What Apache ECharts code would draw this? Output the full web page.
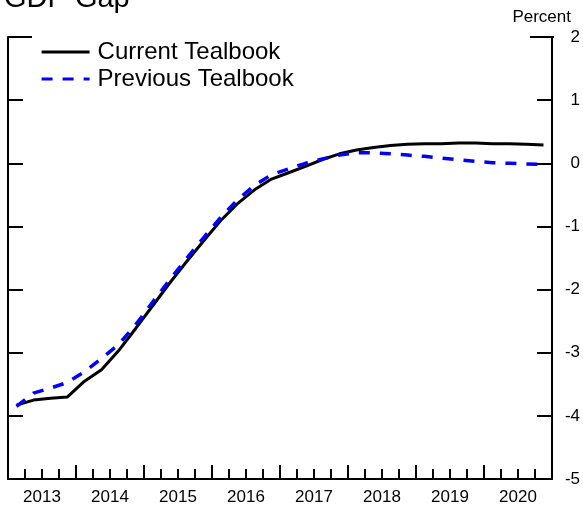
<!DOCTYPE html>
<html>
<head>
<meta charset="utf-8">
<script src="https://cdn.jsdelivr.net/npm/echarts@6/dist/echarts.min.js"></script>
<style>
  html, body { margin: 0; padding: 0; background: #fff; }
  #chart { width: 583px; height: 506px; }
</style>
</head>
<body>
<div id="chart"></div>
<script>
// year labels on the x axis
const years = ['2013', '2014', '2015', '2016', '2017', '2018', '2019', '2020']

// GDP gap, quarterly 2013Q1 .. 2020Q4 (percent)
const currentTealbook = [
  -3.83, -3.75, -3.72, -3.70, -3.45, -3.27, -2.97, -2.62,
  -2.26, -1.90, -1.56, -1.23, -0.91, -0.64, -0.42, -0.25,
  -0.15, -0.05, 0.06, 0.15, 0.21, 0.25, 0.28, 0.30,
  0.31, 0.31, 0.32, 0.32, 0.31, 0.31, 0.30, 0.29,
]
const previousTealbook = [
  -3.85, -3.64, -3.56, -3.47, -3.30, -3.09, -2.87, -2.56,
  -2.20, -1.85, -1.51, -1.18, -0.86, -0.58, -0.35, -0.18,
  -0.09, 0.00, 0.07, 0.13, 0.165, 0.165, 0.15, 0.13,
  0.11, 0.08, 0.055, 0.03, 0.01, 0.00, -0.01, -0.02,
]

const yTicks = { min: -5, max: 2, step: 1 }

const font = 'Liberation Sans, Arial, sans-serif'
const firstYear = Number(years[0])
const lastYear = Number(years[years.length - 1]) + 1

// plot each quarter at its midpoint
const toPoints = vals => vals.map((v, i) => [firstYear + (i + 0.5) / 4, v])

const chart = echarts.init(document.getElementById('chart'))
chart.setOption({
  animation: false,
  title: {
    text: 'GDP Gap',
    left: -1,
    top: -21,
    textStyle: { fontFamily: font, fontSize: 29, fontWeight: 'normal', color: '#000' },
  },
  legend: {
    left: 35,
    top: 35,
    orient: 'vertical',
    itemWidth: 48,
    itemHeight: 14,
    itemGap: 3,
    itemStyle: { opacity: 0 },   // line only, no marker
    lineStyle: { width: 3.2 },
    textStyle: { fontFamily: font, fontSize: 24, color: '#000', lineHeight: 24, padding: [0, 0, 0, 3] },
    data: ['Current Tealbook', 'Previous Tealbook'],
  },
  grid: { left: 8, right: 30, top: 37, bottom: 23 },
  xAxis: {
    type: 'value',
    min: firstYear,
    max: lastYear,
    interval: 1,
    axisLine: { onZero: false, lineStyle: { color: '#000', width: 2 } },
    axisTick: { inside: true, length: 14, lineStyle: { color: '#000', width: 2 } },
    minorTick: { show: true, splitNumber: 4, length: 10, lineStyle: { color: '#000', width: 2 } },
    splitLine: { show: false },
    axisLabel: {
      customValues: years.map(y => Number(y) + 0.5),
      formatter: v => String(Math.floor(v)),
      fontFamily: font, fontSize: 17, color: '#000', margin: 10,
    },
  },
  yAxis: [
    {
      type: 'value', position: 'left',
      min: yTicks.min, max: yTicks.max, interval: yTicks.step,
      axisLine: { show: true, onZero: false, lineStyle: { color: '#000', width: 2 } },
      axisTick: { show: true, inside: true, length: 15, lineStyle: { color: '#000', width: 2 } },
      axisLabel: { show: false },
      splitLine: { show: false },
    },
    {
      type: 'value', position: 'right',
      min: yTicks.min, max: yTicks.max, interval: yTicks.step,
      axisLine: { show: true, onZero: false, lineStyle: { color: '#000', width: 2 } },
      axisTick: { show: true, inside: true, length: 15, lineStyle: { color: '#000', width: 2 } },
      axisLabel: { align: 'right', margin: 28, fontFamily: font, fontSize: 17, color: '#000' },
      splitLine: { show: false },
    },
  ],
  graphic: [
    { type: 'text', right: 12, top: 9, style: { text: 'Percent', font: '17px ' + font, fill: '#000' } },
    // short top caps at the corners of the box
    { type: 'line', shape: { x1: 8, y1: 37, x2: 32, y2: 37 }, style: { stroke: '#000', lineWidth: 2 } },
    { type: 'line', shape: { x1: 530, y1: 37, x2: 554, y2: 37 }, style: { stroke: '#000', lineWidth: 2 } },
  ],
  series: [
    {
      name: 'Current Tealbook',
      type: 'line',
      yAxisIndex: 1,
      data: toPoints(currentTealbook),
      symbol: 'none',
      lineStyle: { color: '#000', width: 3 },
      itemStyle: { color: '#000' },
      z: 3,
    },
    {
      name: 'Previous Tealbook',
      type: 'line',
      yAxisIndex: 1,
      data: toPoints(previousTealbook),
      symbol: 'none',
      lineStyle: { color: '#0000ff', width: 3.5, type: [11, 10] },
      itemStyle: { color: '#0000ff' },
      z: 4,
    },
  ],
})
</script>
</body>
</html>
